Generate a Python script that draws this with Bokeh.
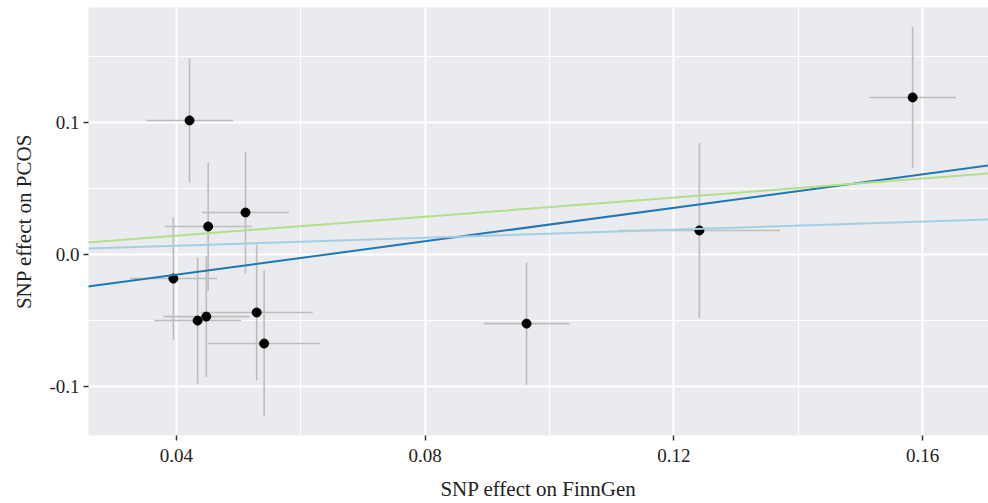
from bokeh.plotting import figure
from bokeh.models import Range1d, FixedTicker, Slope, CustomJSTickFormatter, ColumnDataSource
from bokeh.embed import file_html
from bokeh.resources import INLINE

# SNP estimates (exposure: FinnGen, outcome: PCOS)
beta_x = [0.0421, 0.0451, 0.0511, 0.0395, 0.0434, 0.0448, 0.0529, 0.0541, 0.0963, 0.1241, 0.1584]
beta_y = [0.1015, 0.0212, 0.0318, -0.0182, -0.0500, -0.0470, -0.0439, -0.0674, -0.0523, 0.0182, 0.1189]
se_x = [0.0070, 0.0070, 0.0070, 0.0070, 0.0070, 0.0069, 0.0090, 0.0090, 0.0069, 0.0130, 0.0070]
se_y = [0.0470, 0.0485, 0.0462, 0.0462, 0.0477, 0.0455, 0.0515, 0.0553, 0.0462, 0.0663, 0.0534]

# MR method fits
methods = ["MR Egger", "Weighted median", "Inverse variance weighted"]
slopes = [0.633, 0.152, 0.361]
intercepts = [-0.0406, 0.0006, -0.0002]
method_colors = ["#1f78b4", "#a6cee3", "#b2df8a"]

x_ticks = [0.04, 0.08, 0.12, 0.16]
x_minor = [0.06, 0.10, 0.14]
y_ticks = [-0.1, 0.0, 0.1]
y_minor = [-0.05, 0.05, 0.15]

FONT = "Liberation Serif"

p = figure(width=988, height=503, output_backend="svg", toolbar_location=None,
           x_range=Range1d(0.02585, 0.1706), y_range=Range1d(-0.137, 0.187),
           min_border_left=88, min_border_right=0, min_border_top=7, min_border_bottom=68)
p.background_fill_color = "#EAEBEE"
p.outline_line_color = None

for ax in (p.xgrid[0], p.ygrid[0]):
    ax.grid_line_color = "white"
    ax.grid_line_width = 2
    ax.minor_grid_line_color = "white"
    ax.minor_grid_line_width = 1

p.xaxis.ticker = FixedTicker(ticks=x_ticks, minor_ticks=x_minor)
p.yaxis.ticker = FixedTicker(ticks=y_ticks, minor_ticks=y_minor)
p.xaxis.formatter = CustomJSTickFormatter(code="return tick.toFixed(2);")
p.yaxis.formatter = CustomJSTickFormatter(code="return tick.toFixed(1);")

for ax in (p.xaxis[0], p.yaxis[0]):
    ax.axis_line_color = None
    ax.major_tick_line_color = "#333333"
    ax.major_tick_line_width = 1.5
    ax.major_tick_out = 5
    ax.major_tick_in = 0
    ax.minor_tick_line_color = None
    ax.major_label_text_font = FONT
    ax.major_label_text_font_size = "19px"
    ax.major_label_text_color = "#222222"
    ax.axis_label_text_font = FONT
    ax.axis_label_text_font_size = "21px"
    ax.axis_label_text_font_style = "normal"
    ax.axis_label_text_color = "#222222"

p.xaxis.axis_label = "SNP effect on FinnGen"
p.yaxis.axis_label = "SNP effect on PCOS"
p.xaxis.major_label_standoff = 8
p.yaxis.major_label_standoff = 4
p.xaxis.axis_label_standoff = 12
p.yaxis.axis_label_standoff = 10

src = ColumnDataSource(dict(
    x=beta_x, y=beta_y,
    x0=[a - b for a, b in zip(beta_x, se_x)], x1=[a + b for a, b in zip(beta_x, se_x)],
    y0=[a - b for a, b in zip(beta_y, se_y)], y1=[a + b for a, b in zip(beta_y, se_y)],
))

p.segment(x0="x", x1="x", y0="y0", y1="y1", source=src, line_color="#BDBDBD", line_width=1.6)
p.segment(x0="x0", x1="x1", y0="y", y1="y", source=src, line_color="#BDBDBD", line_width=1.6)

for m, s, b, c in zip(methods, slopes, intercepts, method_colors):
    p.add_layout(Slope(gradient=s, y_intercept=b, line_color=c, line_width=2))

p.scatter(x="x", y="y", source=src, size=9, fill_color="black", line_color="black")

open("out.html", "w").write(file_html(p, INLINE))
